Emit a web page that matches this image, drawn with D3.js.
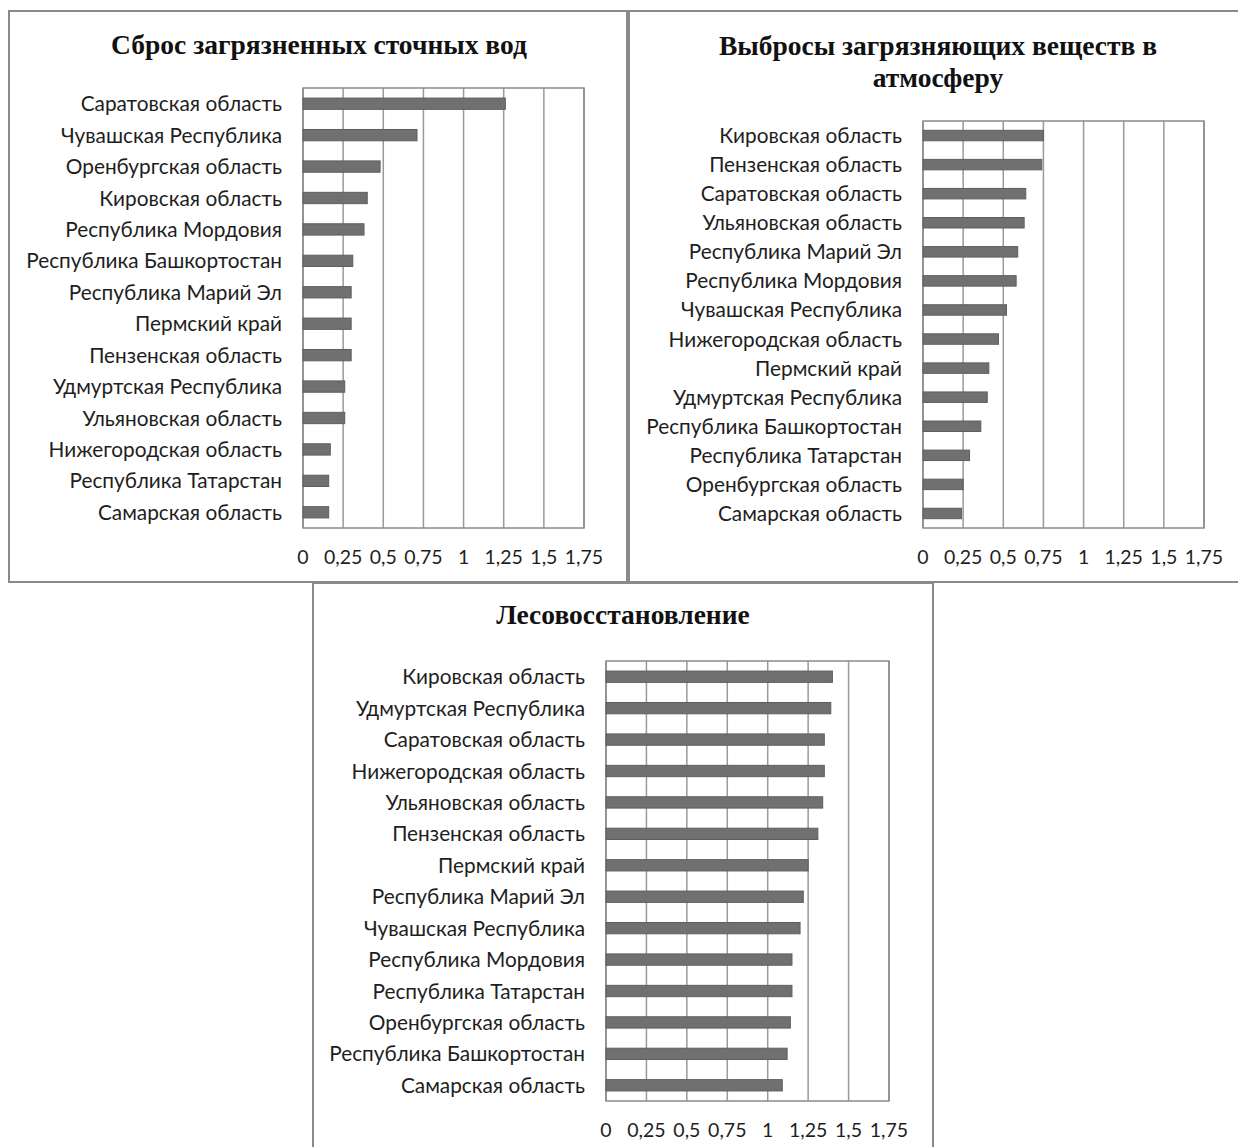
<!DOCTYPE html>
<html><head><meta charset="utf-8">
<script src="https://cdn.jsdelivr.net/npm/d3@7"></script>
<style>body{margin:0;background:#fff}svg{display:block}</style>
</head><body>
<script>
const tickValues = [0, 0.25, 0.5, 0.75, 1, 1.25, 1.5, 1.75];
const tickLabels = ["0", "0,25", "0,5", "0,75", "1", "1,25", "1,5", "1,75"];

const title1 = ["Сброс загрязненных сточных вод"];
const categories1 = ["Саратовская область","Чувашская Республика","Оренбургская область","Кировская область","Республика Мордовия","Республика Башкортостан","Республика Марий Эл","Пермский край","Пензенская область","Удмуртская Республика","Ульяновская область","Нижегородская область","Республика Татарстан","Самарская область"];
const values1 = [1.26, 0.71, 0.48, 0.40, 0.38, 0.31, 0.30, 0.30, 0.30, 0.26, 0.26, 0.17, 0.16, 0.16];

const title2 = ["Выбросы загрязняющих веществ в", "атмосферу"];
const categories2 = ["Кировская область","Пензенская область","Саратовская область","Ульяновская область","Республика Марий Эл","Республика Мордовия","Чувашская Республика","Нижегородская область","Пермский край","Удмуртская Республика","Республика Башкортостан","Республика Татарстан","Оренбургская область","Самарская область"];
const values2 = [0.75, 0.74, 0.64, 0.63, 0.59, 0.58, 0.52, 0.47, 0.41, 0.40, 0.36, 0.29, 0.25, 0.24];

const title3 = ["Лесовосстановление"];
const categories3 = ["Кировская область","Удмуртская Республика","Саратовская область","Нижегородская область","Ульяновская область","Пензенская область","Пермский край","Республика Марий Эл","Чувашская Республика","Республика Мордовия","Республика Татарстан","Оренбургская область","Республика Башкортостан","Самарская область"];
const values3 = [1.40, 1.39, 1.35, 1.35, 1.34, 1.31, 1.25, 1.22, 1.20, 1.15, 1.15, 1.14, 1.12, 1.09];

const W = 1238, H = 1147;
const svg = d3.select("body").append("svg").attr("width", W).attr("height", H);

const panels = [
  {box:[9,11,618,571], plot:[303,88,584,528], titleY:[44], titleX:319, title:title1, cats:categories1, vals:values1},
  {box:[629,11,620,571], plot:[923,121,1204,528], titleY:[45,77], titleX:938, title:title2, cats:categories2, vals:values2},
  {box:[313,583,620,580], plot:[606,661,889,1101], titleY:[614], titleX:623, title:title3, cats:categories3, vals:values3}
];

const labelFont = "Lato, 'Open Sans', sans-serif";

panels.forEach(p => {
  const g = svg.append("g");
  g.append("rect").attr("x", p.box[0]).attr("y", p.box[1]).attr("width", p.box[2]).attr("height", p.box[3])
    .attr("fill", "#fff").attr("stroke", "#8a8a8a").attr("stroke-width", 2);

  p.title.forEach((t, i) => {
    g.append("text").attr("x", p.titleX).attr("y", p.titleY[i]).attr("text-anchor", "middle")
      .attr("dominant-baseline", "central")
      .attr("font-family", "'Liberation Serif', 'Times New Roman', serif").attr("font-weight", "bold")
      .attr("font-size", 27.5).attr("fill", "#111").text(t);
  });

  const [x0, y0, x1, y1] = p.plot;
  const x = d3.scaleLinear().domain([0, 1.75]).range([x0, x1]);
  const y = d3.scaleBand().domain(p.cats).range([y0, y1]).paddingInner(0.64).paddingOuter(0.32);

  // gridlines
  g.append("g").selectAll("line").data(tickValues).join("line")
    .attr("x1", d => x(d)).attr("x2", d => x(d)).attr("y1", y0).attr("y2", y1)
    .attr("stroke", "#9a9a9a").attr("stroke-width", 1.5);
  g.append("rect").attr("x", x0).attr("y", y0).attr("width", x1 - x0).attr("height", y1 - y0)
    .attr("fill", "none").attr("stroke", "#8a8a8a").attr("stroke-width", 1.5);

  // bars
  g.append("g").selectAll("rect").data(p.vals).join("rect")
    .attr("x", x(0)).attr("y", (d, i) => y(p.cats[i]))
    .attr("width", d => x(d) - x(0)).attr("height", y.bandwidth())
    .attr("fill", "#707070").attr("stroke", "#5e5e5e").attr("stroke-width", 1);

  // category labels
  g.append("g").selectAll("text").data(p.cats).join("text")
    .attr("x", x0 - 21).attr("y", d => y(d) + y.bandwidth() / 2 - 1)
    .attr("text-anchor", "end").attr("dominant-baseline", "central")
    .attr("font-family", labelFont).attr("font-size", 20.8).attr("fill", "#1e1e1e").text(d => d);

  // x tick labels
  g.append("g").selectAll("text").data(tickValues).join("text")
    .attr("x", d => x(d)).attr("y", y1 + 28)
    .attr("text-anchor", "middle").attr("dominant-baseline", "central")
    .attr("font-family", labelFont).attr("font-size", 19.5).attr("fill", "#1e1e1e")
    .text((d, i) => tickLabels[i]);
});
</script>
</body></html>
